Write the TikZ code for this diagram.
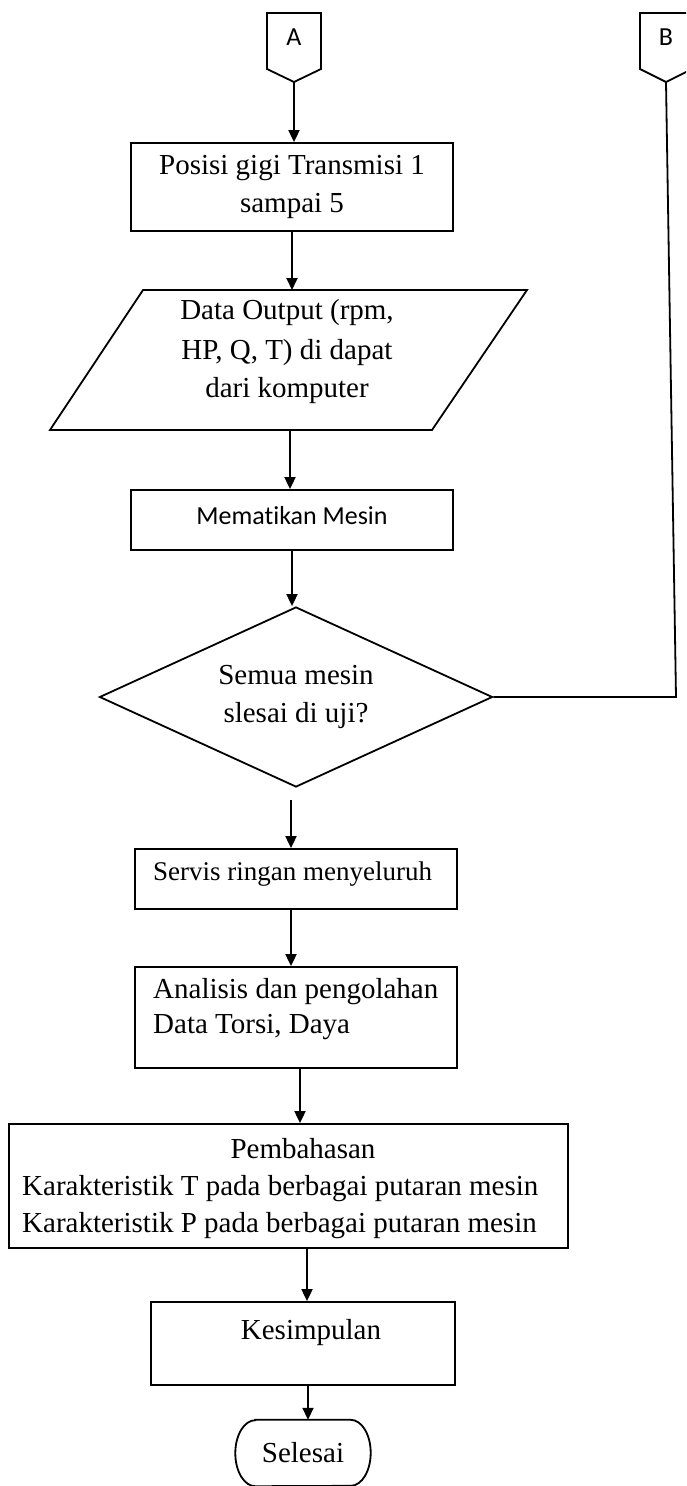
\documentclass[tikz,border=0pt]{standalone}
\usepackage{fontspec}
\setmainfont{Liberation Serif}
\newfontfamily\calib[Ligatures=NoCommon]{Carlito}
\usetikzlibrary{shapes.geometric,arrows.meta,calc}
\newcommand\serifsz{\fontsize{29}{38}\selectfont}
\newcommand\serifsm{\fontsize{27}{36}\selectfont}
\newcommand\calibsz{\calib\fontsize{26}{32}\selectfont}
\begin{document}
\begin{tikzpicture}[x=1pt,y=-1pt,
  ln/.style={line width=1.8pt, line join=miter},
  shp/.style={draw, line width=1.8pt, inner sep=0pt},
  arr/.style={line width=1.8pt, -{Triangle[length=12pt,width=11pt]}},
  tx/.style={font=\serifsz, inner sep=0pt},
  sx/.style={font=\calibsz, inner sep=0pt}]
\useasboundingbox (0,0) rectangle (686,1486);
\clip (0,0) rectangle (686,1486);
\fill[white] (0,0) rectangle (686,1486);

% off-page connectors
\draw[ln] (267,13) -- (321,13) -- (321,69) -- (294,82) -- (267,69) -- cycle;
\node[sx] (A) at (294,37) {A};
\coordinate (Apt) at (294,82);
\draw[ln] (640,13) -- (692,13) -- (692,69) -- (666,82) -- (640,69) -- cycle;
\node[sx] (B) at (666,37) {B};
\coordinate (Bpt) at (666,82);

% process boxes
\node[shp, rectangle, minimum width=322pt, minimum height=88pt, tx, align=center]
  (b1) at (292,187) {Posisi gigi Transmisi 1\\sampai 5};

% data (parallelogram)
\coordinate (dTL) at (143,290);
\coordinate (dTR) at (527,290);
\coordinate (dBR) at (432,430);
\coordinate (dBL) at (50,430);
\draw[ln] (dTL) -- (dTR) -- (dBR) -- (dBL) -- cycle;
\coordinate (dataN) at (292,290);
\coordinate (dataS) at (290,430);
\node[tx, anchor=base] (d1) at (287,319) {Data Output (rpm,};
\node[tx, anchor=base] (d2) at (287,359) {HP, Q, T) di dapat};
\node[tx, anchor=base] (d3) at (287,397) {dari komputer};

\node[shp, rectangle, minimum width=322pt, minimum height=60pt, sx, text depth=10pt]
  (mem) at (292,520) {Mematikan Mesin};

\node[shp, diamond, aspect=2.2, minimum width=393pt, minimum height=180pt, tx, align=center]
  (dia) at (296,697) {Semua mesin\\slesai di uji?};

\node[shp, rectangle, minimum width=322pt, minimum height=60pt] (servis) at (296,879) {};
\node[inner sep=0pt, font=\serifsm, anchor=base west] (servisT) at (153,880) {Servis ringan menyeluruh};

\node[shp, rectangle, minimum width=322pt, minimum height=101pt] (anal) at (296,1017.5) {};
\node[tx, anchor=base west] (anal1) at (153,998) {Analisis dan pengolahan};
\node[tx, anchor=base west] (anal2) at (153,1033) {Data Torsi, Daya};

\node[shp, rectangle, minimum width=559pt, minimum height=124pt] (pemb) at (288.5,1186) {};
\node[tx, anchor=base] (p1) at (303,1158) {Pembahasan};
\node[tx, anchor=base west] (p2) at (22,1195) {Karakteristik T pada berbagai putaran mesin};
\node[tx, anchor=base west] (p3) at (22,1232) {Karakteristik P pada berbagai putaran mesin};

\node[shp, rectangle, minimum width=304pt, minimum height=83pt] (kes) at (303,1343.5) {};
\node[tx, anchor=base] (kesT) at (311,1339) {Kesimpulan};

\node[inner sep=0pt, minimum width=135pt, minimum height=66pt, tx] (sel) at (303,1453) {Selesai};
\draw[ln] ([xshift=20pt]sel.north west) -- ([xshift=-20pt]sel.north east)
  arc[start angle=90, end angle=-90, x radius=20pt, y radius=33pt]
  -- ([xshift=20pt]sel.south west)
  arc[start angle=270, end angle=90, x radius=20pt, y radius=33pt] -- cycle;

% connectors
\draw[arr] (Apt) -- (Apt |- b1.north);
\draw[arr] (b1.south) -- (dataN);
\draw[arr] (dataS) -- (dataS |- mem.north);
\draw[arr] (mem.south) -- (mem.south |- dia.north);
\coordinate (Bc) at (676,697);
\draw[ln] (Bpt) -- (Bc) -- (dia.east);
\draw[arr, shorten <=12pt] ([xshift=-5pt]dia.south) -- ([xshift=-5pt]dia.south |- servis.north);
\draw[arr] ([xshift=-5pt]servis.south) -- ([xshift=-5pt]servis.south |- anal.north);
\draw[arr] ([xshift=4pt]anal.south) -- ([xshift=4pt]anal.south |- pemb.north);
\draw[arr] ([xshift=4pt]kes.north |- pemb.south) -- ([xshift=4pt]kes.north);
\draw[arr] ([xshift=5pt]kes.south) -- ([xshift=5pt]sel.north);
\end{tikzpicture}
\end{document}
